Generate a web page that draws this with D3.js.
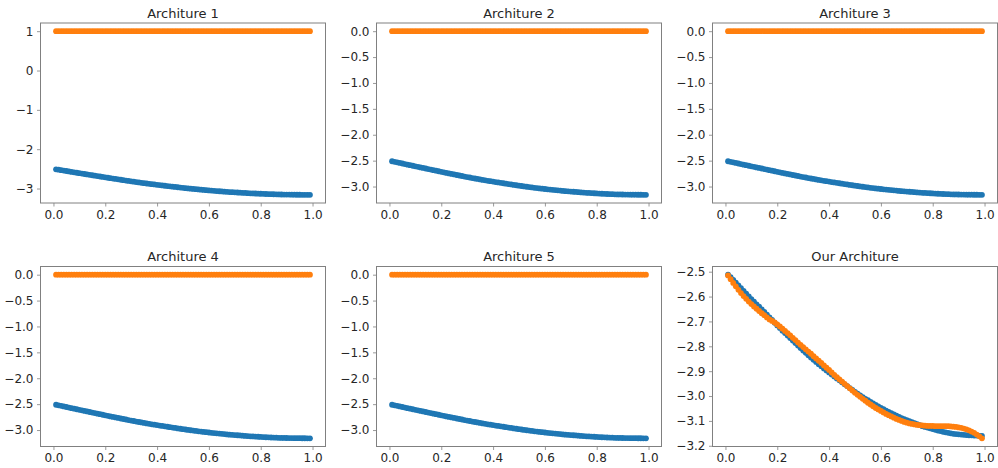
<!DOCTYPE html>
<html>
<head>
<meta charset="utf-8">
<script src="https://cdn.jsdelivr.net/npm/d3@7"></script>
<style>
  html, body { margin: 0; padding: 0; background: #fff; }
  svg { display: block; font-family: "DejaVu Sans", sans-serif; }
</style>
</head>
<body>
<svg id="chart" width="998" height="468"></svg>
<script>
// ---- data ----
const titles = ["Architure 1", "Architure 2", "Architure 3", "Architure 4", "Architure 5", "Our Architure"];

const xs = [0.01,0.02,0.03,0.04,0.05,0.06,0.07,0.08,0.09,0.10,0.11,0.12,0.13,0.14,0.15,0.16,0.17,0.18,0.19,0.20,
            0.21,0.22,0.23,0.24,0.25,0.26,0.27,0.28,0.29,0.30,0.31,0.32,0.33,0.34,0.35,0.36,0.37,0.38,0.39,0.40,
            0.41,0.42,0.43,0.44,0.45,0.46,0.47,0.48,0.49,0.50,0.51,0.52,0.53,0.54,0.55,0.56,0.57,0.58,0.59,0.60,
            0.61,0.62,0.63,0.64,0.65,0.66,0.67,0.68,0.69,0.70,0.71,0.72,0.73,0.74,0.75,0.76,0.77,0.78,0.79,0.80,
            0.81,0.82,0.83,0.84,0.85,0.86,0.87,0.88,0.89,0.90,0.91,0.92,0.93,0.94,0.95,0.96,0.97,0.98,0.99];

// true target (blue)
const blueValues = [
  -2.512,-2.522,-2.533,-2.544,-2.555,-2.566,-2.577,-2.588,-2.599,-2.610,
  -2.620,-2.631,-2.641,-2.652,-2.662,-2.673,-2.684,-2.694,-2.705,-2.716,
  -2.726,-2.737,-2.747,-2.757,-2.767,-2.777,-2.787,-2.797,-2.807,-2.817,
  -2.826,-2.836,-2.845,-2.854,-2.863,-2.872,-2.880,-2.889,-2.897,-2.905,
  -2.913,-2.921,-2.929,-2.937,-2.945,-2.953,-2.960,-2.968,-2.975,-2.983,
  -2.990,-2.997,-3.004,-3.011,-3.017,-3.024,-3.030,-3.036,-3.042,-3.048,
  -3.053,-3.059,-3.064,-3.069,-3.074,-3.079,-3.084,-3.089,-3.093,-3.097,
  -3.101,-3.105,-3.109,-3.113,-3.117,-3.121,-3.124,-3.127,-3.130,-3.133,
  -3.136,-3.139,-3.141,-3.144,-3.146,-3.148,-3.150,-3.152,-3.153,-3.154,
  -3.155,-3.156,-3.157,-3.158,-3.158,-3.159,-3.159,-3.160,-3.160];

// predictions (orange)
const orangeArch1 = [
  1,1,1,1,1,1,1,1,1,1, 1,1,1,1,1,1,1,1,1,1, 1,1,1,1,1,1,1,1,1,1, 1,1,1,1,1,1,1,1,1,1,
  1,1,1,1,1,1,1,1,1,1, 1,1,1,1,1,1,1,1,1,1, 1,1,1,1,1,1,1,1,1,1, 1,1,1,1,1,1,1,1,1,1,
  1,1,1,1,1,1,1,1,1,1, 1,1,1,1,1,1,1,1,1];
const orangeArch2to5 = [
  0,0,0,0,0,0,0,0,0,0, 0,0,0,0,0,0,0,0,0,0, 0,0,0,0,0,0,0,0,0,0, 0,0,0,0,0,0,0,0,0,0,
  0,0,0,0,0,0,0,0,0,0, 0,0,0,0,0,0,0,0,0,0, 0,0,0,0,0,0,0,0,0,0, 0,0,0,0,0,0,0,0,0,0,
  0,0,0,0,0,0,0,0,0,0, 0,0,0,0,0,0,0,0,0];
const orangeOurs = [
  -2.515,-2.530,-2.545,-2.559,-2.573,-2.586,-2.598,-2.609,-2.620,-2.630,
  -2.640,-2.649,-2.658,-2.667,-2.675,-2.684,-2.692,-2.698,-2.704,-2.712,
  -2.720,-2.729,-2.738,-2.747,-2.756,-2.766,-2.775,-2.785,-2.794,-2.803,
  -2.812,-2.821,-2.830,-2.840,-2.849,-2.858,-2.867,-2.877,-2.886,-2.895,
  -2.905,-2.915,-2.924,-2.933,-2.942,-2.951,-2.960,-2.969,-2.978,-2.987,
  -2.995,-3.003,-3.011,-3.019,-3.027,-3.034,-3.041,-3.048,-3.054,-3.060,
  -3.066,-3.072,-3.077,-3.082,-3.087,-3.092,-3.096,-3.100,-3.104,-3.107,
  -3.110,-3.112,-3.114,-3.116,-3.117,-3.118,-3.119,-3.120,-3.120,-3.120,
  -3.121,-3.121,-3.121,-3.121,-3.121,-3.121,-3.122,-3.123,-3.124,-3.126,
  -3.128,-3.131,-3.134,-3.138,-3.143,-3.148,-3.155,-3.162,-3.170];

const xTicks = [0.0, 0.2, 0.4, 0.6, 0.8, 1.0];
const yTicksArch1 = [1, 0, -1, -2, -3];
const yTicksArch = [0.0, -0.5, -1.0, -1.5, -2.0, -2.5, -3.0];
const yTicksOurs = [-2.5, -2.6, -2.7, -2.8, -2.9, -3.0, -3.1, -3.2];

const panels = [
  { title: titles[0], orange: orangeArch1,    yTicks: yTicksArch1, fmt: "d" },
  { title: titles[1], orange: orangeArch2to5, yTicks: yTicksArch,  fmt: ".1f" },
  { title: titles[2], orange: orangeArch2to5, yTicks: yTicksArch,  fmt: ".1f" },
  { title: titles[3], orange: orangeArch2to5, yTicks: yTicksArch,  fmt: ".1f" },
  { title: titles[4], orange: orangeArch2to5, yTicks: yTicksArch,  fmt: ".1f" },
  { title: titles[5], orange: orangeOurs,     yTicks: yTicksOurs,  fmt: ".1f" }
];

// ---- layout ----
const colLeft = [40.5, 376.5, 712.5];
const rowTop = [23, 266.5];
const pw = 285, ph = 180;
const blue = "#1f77b4", orange = "#ff7f0e";
const spine = "#808080", textCol = "#262626";

const svg = d3.select("#chart");

panels.forEach((p, i) => {
  const left = colLeft[i % 3], top = rowTop[Math.floor(i / 3)];
  const g = svg.append("g").attr("transform", `translate(${left},${top})`);

  const x = d3.scaleLinear().domain([-0.05, 1.05]).range([0, pw]);
  const all = blueValues.concat(p.orange);
  const [lo, hi] = d3.extent(all);
  const m = (hi - lo) * 0.05;
  const y = d3.scaleLinear().domain([lo - m, hi + m]).range([ph, 0]);

  // series
  g.append("g").selectAll("circle").data(xs).join("circle")
    .attr("cx", d => x(d)).attr("cy", (d, j) => y(blueValues[j]))
    .attr("r", 2.9).attr("fill", blue);
  g.append("g").selectAll("circle").data(xs).join("circle")
    .attr("cx", d => x(d)).attr("cy", (d, j) => y(p.orange[j]))
    .attr("r", 2.9).attr("fill", orange);

  // axes
  const xa = g.append("g").attr("transform", `translate(0,${ph})`)
    .call(d3.axisBottom(x).tickValues(xTicks).tickFormat(d3.format(".1f")).tickSizeInner(3.5).tickSizeOuter(0).tickPadding(3.5));
  const ya = g.append("g")
    .call(d3.axisLeft(y).tickValues(p.yTicks).tickFormat(d3.format(p.fmt)).tickSizeInner(3.5).tickSizeOuter(0).tickPadding(3.5));
  [xa, ya].forEach(a => {
    a.select(".domain").remove();
    a.selectAll(".tick line").attr("stroke", spine).attr("stroke-width", 0.8);
    a.selectAll(".tick text").attr("fill", textCol).style("font-size", "12px").style("font-family", "DejaVu Sans");
  });

  // frame
  g.append("rect").attr("x", 0).attr("y", 0).attr("width", pw).attr("height", ph)
    .attr("fill", "none").attr("stroke", spine).attr("stroke-width", 1);

  // title
  g.append("text").attr("x", pw / 2).attr("y", -5.5).attr("text-anchor", "middle")
    .attr("fill", textCol).style("font-size", "13px").text(p.title);
});
</script>
</body>
</html>
